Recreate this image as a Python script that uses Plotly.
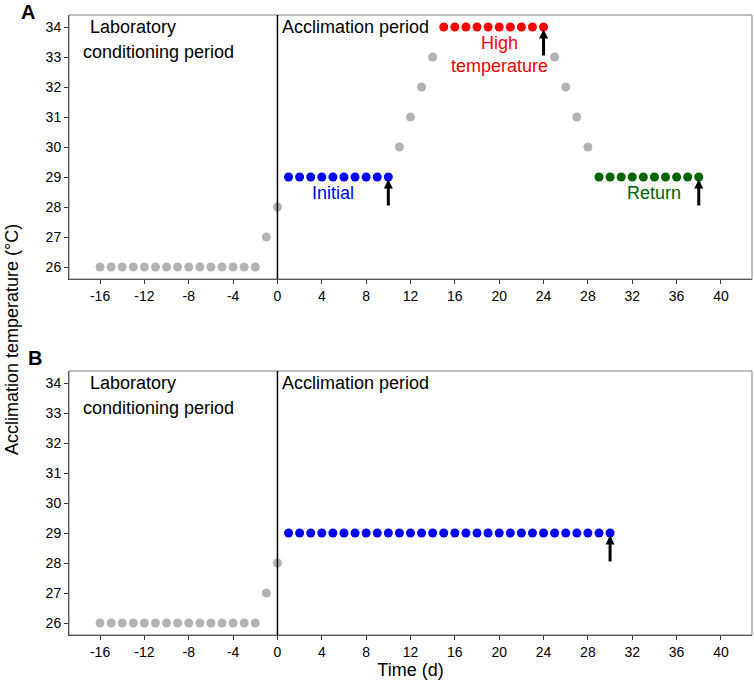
import plotly.graph_objects as go

# Panel A: stepped acclimation profile
gray_x_a = [-16, -15, -14, -13, -12, -11, -10, -9, -8, -7, -6, -5, -4, -3, -2, -1, 0,
            11, 12, 13, 14, 25, 26, 27, 28]
gray_y_a = [26, 26, 26, 26, 26, 26, 26, 26, 26, 26, 26, 26, 26, 26, 26, 27, 28,
            30, 31, 32, 33, 33, 32, 31, 30]
initial_x_a = [1, 2, 3, 4, 5, 6, 7, 8, 9, 10]
initial_y_a = [29, 29, 29, 29, 29, 29, 29, 29, 29, 29]
high_x_a = [15, 16, 17, 18, 19, 20, 21, 22, 23, 24]
high_y_a = [34, 34, 34, 34, 34, 34, 34, 34, 34, 34]
return_x_a = [29, 30, 31, 32, 33, 34, 35, 36, 37, 38]
return_y_a = [29, 29, 29, 29, 29, 29, 29, 29, 29, 29]

# Panel B: constant acclimation
gray_x_b = [-16, -15, -14, -13, -12, -11, -10, -9, -8, -7, -6, -5, -4, -3, -2, -1, 0]
gray_y_b = [26, 26, 26, 26, 26, 26, 26, 26, 26, 26, 26, 26, 26, 26, 26, 27, 28]
initial_x_b = [1, 2, 3, 4, 5, 6, 7, 8, 9, 10, 11, 12, 13, 14, 15, 16, 17, 18, 19, 20,
               21, 22, 23, 24, 25, 26, 27, 28, 29, 30]
initial_y_b = [29, 29, 29, 29, 29, 29, 29, 29, 29, 29, 29, 29, 29, 29, 29, 29, 29, 29, 29, 29,
               29, 29, 29, 29, 29, 29, 29, 29, 29, 29]

# sampling arrows (day, temperature)
arrows_a = [(10, 29), (24, 34), (38, 29)]
arrows_b = [(30, 29)]

x_ticks = [-16, -12, -8, -4, 0, 4, 8, 12, 16, 20, 24, 28, 32, 36, 40]
x_tick_labels = ["-16", "-12", "-8", "-4", "0", "4", "8", "12", "16", "20", "24", "28",
                 "32", "36", "40"]
y_ticks = [26, 27, 28, 29, 30, 31, 32, 33, 34]

GRAY = "#b3b3b3"
BLUE = "#0000ff"
RED = "#ff0000"
GREEN = "#006400"
FONT = "Arial, Liberation Sans, sans-serif"

fig = go.Figure()

def dots(x, y, color, xa, ya):
    fig.add_trace(go.Scatter(x=x, y=y, mode="markers", xaxis=xa, yaxis=ya,
                             marker=dict(color=color, size=9, line=dict(width=0)),
                             showlegend=False, hoverinfo="skip"))

dots(gray_x_a, gray_y_a, GRAY, "x", "y")
dots(initial_x_a, initial_y_a, BLUE, "x", "y")
dots(high_x_a, high_y_a, RED, "x", "y")
dots(return_x_a, return_y_a, GREEN, "x", "y")
dots(gray_x_b, gray_y_b, GRAY, "x2", "y2")
dots(initial_x_b, initial_y_b, BLUE, "x2", "y2")

ann = []

def label(text, x, y, xref, yref, color="black", xanchor="left", size=18):
    ann.append(dict(text=text, x=x, y=y, xref=xref, yref=yref, showarrow=False,
                    xanchor=xanchor, yanchor="middle", align="center",
                    font=dict(family=FONT, size=size, color=color)))

for xr, yr in [("x", "y"), ("x2", "y2")]:
    label("Laboratory", -17.1, 34.0, xr, yr)
    label("conditioning period", -17.7, 33.18, xr, yr)
    label("Acclimation period", 0.2, 34.0, xr, yr)

label("Initial", 5.0, 28.48, "x", "y", color=BLUE, xanchor="center")
label("High<br>temperature", 20.0, 33.1, "x", "y", color=RED, xanchor="center")
label("Return", 34.0, 28.48, "x", "y", color=GREEN, xanchor="center")

def arrows(pts, xr, yr):
    for ax_, ay_ in pts:
        ann.append(dict(x=ax_, y=ay_ - 0.08, ax=ax_, ay=ay_ - 1, xref=xr, yref=yr,
                        axref=xr, ayref=yr, showarrow=True, arrowhead=2,
                        arrowsize=0.6, arrowwidth=3, arrowcolor="black", text=""))

arrows(arrows_a, "x", "y")
arrows(arrows_b, "x2", "y2")

L, R, T, B = 69, 2, 15, 48
pw, ph = 754 - L - R, 683 - T - B

def px_to_paper(px, py):
    return (px - L) / pw, (683 - B - py) / ph

# panel letters and shared y title
for text, (px, py) in [("<b>A</b>", (28, 12)), ("<b>B</b>", (35, 358))]:
    x, y = px_to_paper(px, py)
    ann.append(dict(text=text, x=x, y=y, xref="paper", yref="paper", showarrow=False,
                    xanchor="center", yanchor="middle",
                    font=dict(family=FONT, size=20, color="black")))
x, y = px_to_paper(12, 340)
ann.append(dict(text="Acclimation temperature (°C)", x=x, y=y, xref="paper", yref="paper",
                showarrow=False, textangle=-90, xanchor="center", yanchor="middle",
                font=dict(family=FONT, size=18, color="black")))

top_dom = [(635 - 279) / ph, 1.0]
bot_dom = [0.0, (635 - 371) / ph]

xa = dict(range=[-18.8, 42.8], tickvals=x_ticks, ticktext=x_tick_labels, ticks="outside",
          ticklen=4, tickwidth=1, tickcolor="#333333", showgrid=False, zeroline=False,
          showline=True, linecolor="#333333", linewidth=1,
          tickfont=dict(family=FONT, size=14, color="black"))
ya = dict(range=[25.6, 34.4], tickvals=y_ticks, ticks="outside", ticklen=4, tickwidth=1,
          tickcolor="#333333", showgrid=False, zeroline=False, showline=True,
          linecolor="#333333", linewidth=1,
          tickfont=dict(family=FONT, size=14, color="black"))

fig.update_layout(
    width=754, height=683,
    margin=dict(l=L, r=R, t=T, b=B),
    paper_bgcolor="white", plot_bgcolor="white",
    xaxis=dict(xa, anchor="y", domain=[0, 1]),
    yaxis=dict(ya, anchor="x", domain=top_dom),
    xaxis2=dict(xa, anchor="y2", domain=[0, 1],
                title=dict(text="Time (d)", font=dict(family=FONT, size=18, color="black"),
                           standoff=2)),
    yaxis2=dict(ya, anchor="x2", domain=bot_dom),
    annotations=ann,
    shapes=[
        dict(type="rect", xref="x domain", yref="y domain", x0=0, x1=1, y0=0, y1=1,
             line=dict(color="#7f7f7f", width=1)),
        dict(type="rect", xref="x2 domain", yref="y2 domain", x0=0, x1=1, y0=0, y1=1,
             line=dict(color="#7f7f7f", width=1)),
        dict(type="line", xref="x", yref="y domain", x0=0, x1=0, y0=0, y1=1,
             line=dict(color="black", width=1.5)),
        dict(type="line", xref="x2", yref="y2 domain", x0=0, x1=0, y0=0, y1=1,
             line=dict(color="black", width=1.5)),
    ],
)

fig.write_html("out.html", config={"displayModeBar": False},
               post_script="document.body.style.margin='0';")
